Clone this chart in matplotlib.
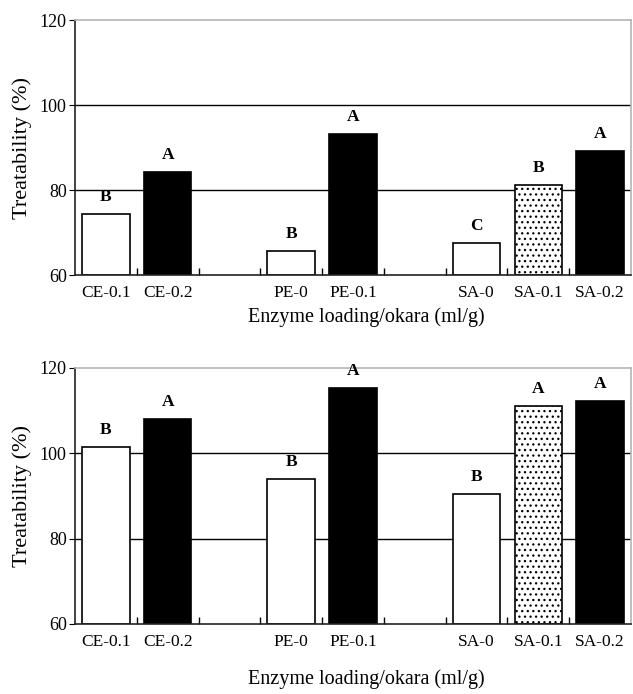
import matplotlib
matplotlib.use("Agg")
import matplotlib.pyplot as plt
import numpy as np

plt.rcParams['font.family'] = ['Liberation Serif', 'DejaVu Serif']
plt.rcParams['hatch.linewidth'] = 0.9

# treatment groups, each followed by an empty slot on the axis
groups = [['CE-0.1', 'CE-0.2'], ['PE-0', 'PE-0.1'], ['SA-0', 'SA-0.1', 'SA-0.2']]
fills = ['white', 'black', 'white', 'black', 'white', 'dots', 'black']

treat_top = [74.4, 84.3, 65.7, 93.1, 67.6, 81.3, 89.3]
letters_top = ['B', 'A', 'B', 'A', 'C', 'B', 'A']

treat_bottom = [101.4, 108.0, 94.0, 115.4, 90.5, 111.0, 112.3]
letters_bottom = ['B', 'A', 'B', 'A', 'B', 'A', 'A']


def slot_positions(groups):
    """Slot index for each bar, leaving one empty slot between groups."""
    pos, i = [], 0
    for g in groups:
        for _ in g:
            pos.append(i)
            i += 1
        i += 1
    return np.array(pos), i - 1


def draw_panel(ax, values, letters, label_y):
    labels = [lab for g in groups for lab in g]
    pos, nslots = slot_positions(groups)
    centers = pos + 0.5

    ax.set_axisbelow(True)
    for yv in (80, 100):
        ax.axhline(yv, color='black', lw=1.0, zorder=0)

    for x, v, f in zip(centers, values, fills):
        if f == 'dots':
            ax.bar(x, v - 60, bottom=60, width=0.77, facecolor='white',
                   edgecolor='black', hatch='...', lw=1.2, zorder=2)
        else:
            ax.bar(x, v - 60, bottom=60, width=0.77, facecolor=f,
                   edgecolor='black', lw=1.2, zorder=2)

    for x, v, t in zip(centers, values, letters):
        ax.text(x, v + 2.1, t, ha='center', va='bottom', fontsize=12.5,
                fontweight='bold')

    ax.set_xlim(0, nslots)
    ax.set_ylim(60, 120)
    ax.set_yticks([60, 80, 100, 120])
    ax.tick_params(axis='y', direction='out', length=4, labelsize=13, pad=2)

    ax.set_xticks(np.arange(1, nslots))
    ax.set_xticklabels([])
    ax.tick_params(axis='x', which='major', direction='in', length=5, width=1)
    ax.set_xticks(centers, minor=True)
    ax.set_xticklabels(labels, minor=True, fontsize=12.5)
    ax.tick_params(axis='x', which='minor', length=0, pad=7)

    for s in ('left', 'bottom'):
        ax.spines[s].set_color('#222222')
        ax.spines[s].set_linewidth(1.2)
    for s in ('top', 'right'):
        ax.spines[s].set_color('#b5b5b5')
        ax.spines[s].set_linewidth(1.2)

    ax.set_ylabel('Treatability (%)', fontsize=16)
    ax.yaxis.set_label_coords(-0.078, 0.5)
    ax.set_xlabel('Enzyme loading/okara (ml/g)', fontsize=14.5)
    ax.xaxis.set_label_coords(0.523, label_y)


fig = plt.figure(figsize=(6.33, 6.94), dpi=100)
ax1 = fig.add_axes([0.1185, 0.6037, 0.8784, 0.3674])
ax2 = fig.add_axes([0.1185, 0.1009, 0.8784, 0.3689])

draw_panel(ax1, treat_top, letters_top, -0.125)
draw_panel(ax2, treat_bottom, letters_bottom, -0.175)

fig.savefig('out.png', dpi=100)
